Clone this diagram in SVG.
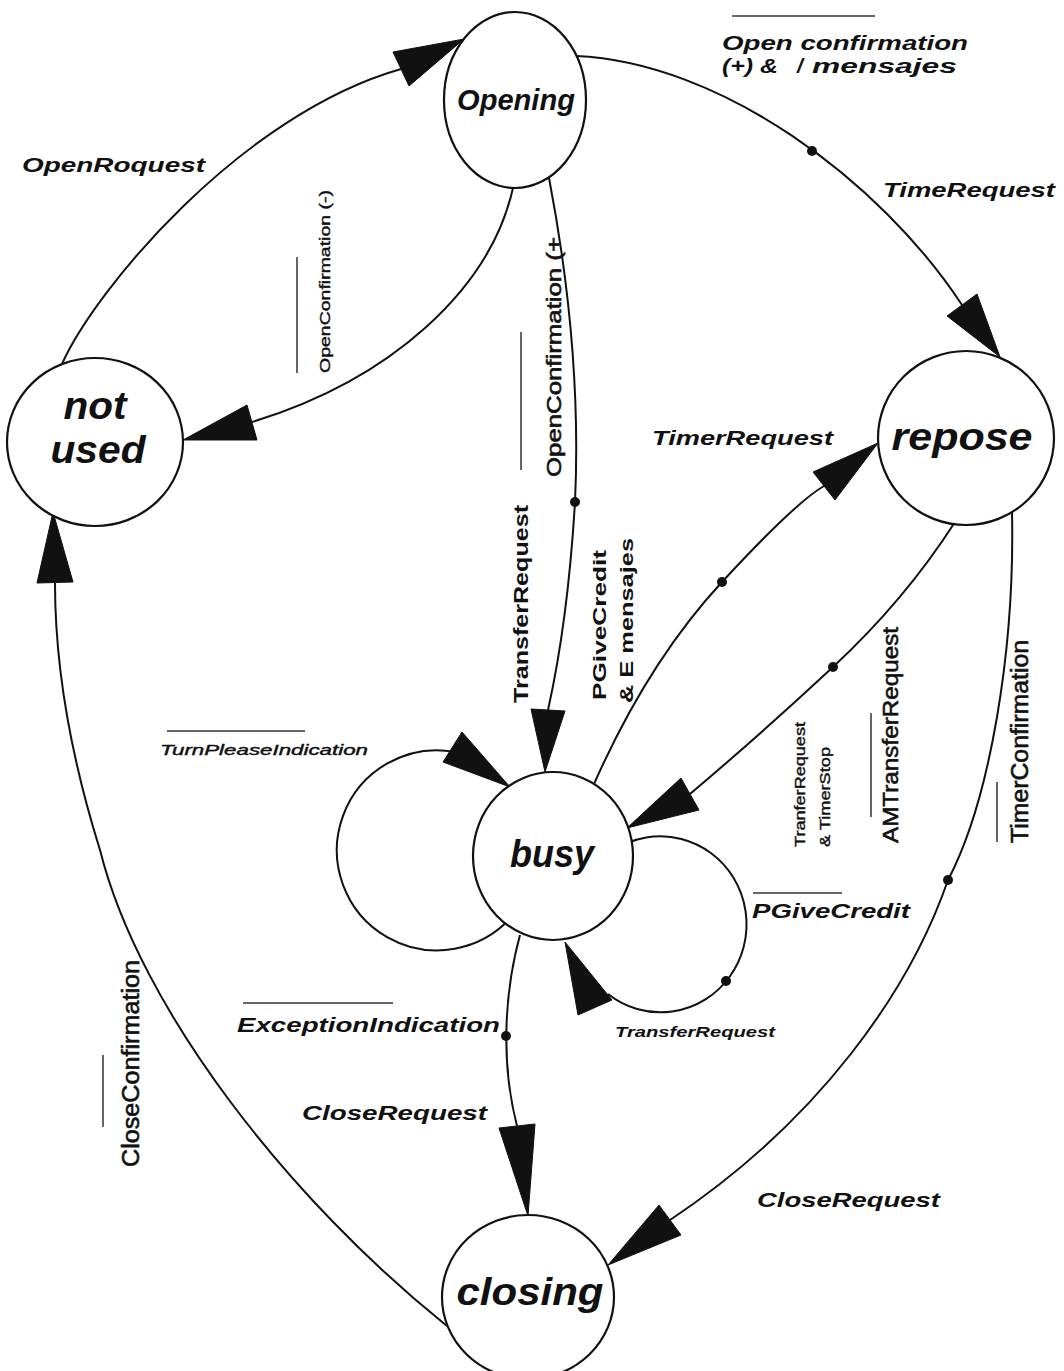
<svg xmlns="http://www.w3.org/2000/svg" width="1064" height="1371" viewBox="0 0 1064 1371">
<defs>
<style>
.node{fill:#fff;stroke:#111;stroke-width:2.2}
.nl{font-family:"Liberation Sans",Arial,sans-serif;font-style:italic;font-weight:bold;font-size:38px;fill:#111;text-anchor:middle}
.edge{fill:none;stroke:#111;stroke-width:2}
.ah{fill:#111;stroke:#111;stroke-width:1;stroke-linejoin:round}
.dot{fill:#111}
.lb{font-family:"Liberation Sans",Arial,sans-serif;font-style:italic;font-weight:bold;font-size:21px;fill:#111}
.vt{font-family:"Liberation Sans",Arial,sans-serif;font-style:normal;font-weight:normal;font-size:21px;fill:#111;stroke:#111;stroke-width:0.6}
.vb{font-family:"Liberation Sans",Arial,sans-serif;font-style:normal;font-weight:bold;font-size:21px;fill:#111}
.sm{font-family:"Liberation Sans",Arial,sans-serif;font-style:italic;font-weight:normal;font-size:14px;fill:#111;stroke:#111;stroke-width:0.4}
.ov{stroke:#333;stroke-width:1.5}
</style>
</defs>
<rect width="1064" height="1371" fill="#fff"/>
<g id="connectors">
  <g id="e-openrequest">
    <path class="edge" d="M62,364 C95,290 240,115 401,69"/>
    <polygon class="ah" points="464,39 393,52 409,86"/>
    <text class="lb" x="22" y="172" style="font-size:20px" textLength="183" lengthAdjust="spacingAndGlyphs">OpenRoquest</text>
  </g>
  <g id="e-openconf-neg">
    <path class="edge" d="M513,188 C490,290 390,380 252,422"/>
    <polygon class="ah" points="183,440 247,405 257,440"/>
    <line class="ov" x1="297" y1="257" x2="297" y2="373"/>
    <text class="vt" transform="translate(330,373) rotate(-90)" style="font-size:14px;stroke-width:0.4" textLength="183" lengthAdjust="spacingAndGlyphs">OpenConfirmation (-)</text>
  </g>
  <g id="e-opening-busy">
    <path class="edge" d="M549,178 Q582,350 575,502 Q568,620 548,710"/>
    <polygon class="ah" points="545,772 531,709 565,711"/>
    <circle class="dot" cx="575" cy="502" r="5"/>
    <line class="ov" x1="521" y1="332" x2="521" y2="470"/>
    <text class="vt" transform="translate(561,477) rotate(-90)" style="font-size:20px" textLength="240" lengthAdjust="spacingAndGlyphs">OpenConfirmation (+</text>
    <text class="vb" transform="translate(528,703) rotate(-90)" style="font-size:20px" textLength="198" lengthAdjust="spacingAndGlyphs">TransferRequest</text>
  </g>
  <g id="e-opening-repose">
    <path class="edge" d="M576,56 C720,62 880,180 962,305"/>
    <polygon class="ah" points="1000,357 977,294 947,316"/>
    <circle class="dot" cx="812" cy="151" r="5"/>
    <line class="ov" x1="732" y1="16" x2="875" y2="16"/>
    <text class="lb" x="722" y="50" textLength="246" lengthAdjust="spacingAndGlyphs">Open confirmation</text>
    <text class="lb" x="722" y="73" textLength="56" lengthAdjust="spacingAndGlyphs">(+) &amp;</text>
    <text class="lb" x="797" y="73">/</text>
    <text class="lb" x="812" y="73" textLength="145" lengthAdjust="spacingAndGlyphs">mensajes</text>
    <text class="lb" x="883" y="197" textLength="172" lengthAdjust="spacingAndGlyphs">TimeRequest</text>
  </g>
  <g id="e-busy-repose">
    <path class="edge" d="M594,784 Q648,662 722,582 T824,486"/>
    <polygon class="ah" points="878,443 813,472 835,500"/>
    <circle class="dot" cx="722" cy="582" r="5"/>
    <text class="lb" x="652" y="445" textLength="181" lengthAdjust="spacingAndGlyphs">TimerRequest</text>
    <text class="vb" transform="translate(606,700) rotate(-90)" style="font-size:18px" textLength="150" lengthAdjust="spacingAndGlyphs">PGiveCredit</text>
    <text class="vb" transform="translate(633,703) rotate(-90)" style="font-size:18px" textLength="165" lengthAdjust="spacingAndGlyphs">&amp; E mensajes</text>
  </g>
  <g id="e-repose-busy">
    <path class="edge" d="M955,522 Q905,600 833,667 T690,794"/>
    <polygon class="ah" points="627,828 699,810 681,778"/>
    <circle class="dot" cx="833" cy="667" r="5"/>
    <text class="vt" transform="translate(805,847) rotate(-90)" style="font-size:14px;stroke-width:0.4" textLength="125" lengthAdjust="spacingAndGlyphs">TranferRequest</text>
    <text class="vt" transform="translate(830,847) rotate(-90)" style="font-size:14px;stroke-width:0.4" textLength="100" lengthAdjust="spacingAndGlyphs">&amp; TimerStop</text>
    <line class="ov" x1="871" y1="713" x2="871" y2="817"/>
    <text class="vt" transform="translate(898,843) rotate(-90)" style="font-size:22px" textLength="216" lengthAdjust="spacingAndGlyphs">AMTransferRequest</text>
  </g>
  <g id="e-repose-closing">
    <path class="edge" d="M1012,512 C1015,650 990,800 948,880 C910,990 820,1120 670,1220"/>
    <polygon class="ah" points="608,1265 681,1235 659,1205"/>
    <circle class="dot" cx="948" cy="880" r="5"/>
    <line class="ov" x1="997" y1="782" x2="997" y2="842"/>
    <text class="vt" transform="translate(1028,843) rotate(-90)" style="font-size:23px" textLength="203" lengthAdjust="spacingAndGlyphs">TimerConfirmation</text>
    <text class="lb" x="757" y="1207" textLength="183" lengthAdjust="spacingAndGlyphs">CloseRequest</text>
  </g>
  <g id="e-busy-closing">
    <path class="edge" d="M520,935 C505,990 500,1060 517,1126"/>
    <polygon class="ah" points="528,1216 499,1128 535,1124"/>
    <circle class="dot" cx="506" cy="1036" r="5"/>
    <line class="ov" x1="243" y1="1003" x2="393" y2="1003"/>
    <text class="lb" x="237" y="1032" textLength="263" lengthAdjust="spacingAndGlyphs">ExceptionIndication</text>
    <text class="lb" x="302" y="1120" textLength="185" lengthAdjust="spacingAndGlyphs">CloseRequest</text>
  </g>
  <g id="e-closing-notused">
    <path class="edge" d="M447,1326 C290,1200 140,1010 100,850 C75,770 55,680 55,583"/>
    <polygon class="ah" points="53,512 37,583 73,582"/>
    <line class="ov" x1="103" y1="1055" x2="103" y2="1127"/>
    <text class="vt" transform="translate(139,1167) rotate(-90)" style="font-size:23px" textLength="207" lengthAdjust="spacingAndGlyphs">CloseConfirmation</text>
  </g>
  <g id="e-busy-loop-left">
    <path class="edge" d="M514,914 A100 100 0 1 1 455,752"/>
    <polygon class="ah" points="510,787 443,762 462,732"/>
    <line class="ov" x1="167" y1="731" x2="305" y2="731"/>
    <text class="sm" x="160" y="755" textLength="208" lengthAdjust="spacingAndGlyphs">TurnPleaseIndication</text>
  </g>
  <g id="e-busy-loop-right">
    <path class="edge" d="M590,874 A86 88 0 1 1 608,994"/>
    <polygon class="ah" points="565,942 578,1015 612,1000"/>
    <circle class="dot" cx="726" cy="981" r="5"/>
    <line class="ov" x1="753" y1="893" x2="842" y2="893"/>
    <text class="lb" x="752" y="918" textLength="158" lengthAdjust="spacingAndGlyphs">PGiveCredit</text>
    <text class="lb" x="615" y="1037" style="font-size:14px" textLength="160" lengthAdjust="spacingAndGlyphs">TransferRequest</text>
  </g>
</g>
<g id="node-opening">
  <ellipse class="node" cx="515" cy="100" rx="71" ry="88"/>
  <text class="nl" x="516" y="110" style="font-size:29px" textLength="118" lengthAdjust="spacingAndGlyphs">Opening</text>
</g>
<g id="node-notused">
  <ellipse class="node" cx="95" cy="442" rx="88" ry="84"/>
  <text class="nl" x="95" y="419" textLength="63" lengthAdjust="spacingAndGlyphs">not</text>
  <text class="nl" x="98" y="463" textLength="95" lengthAdjust="spacingAndGlyphs">used</text>
</g>
<g id="node-repose">
  <ellipse class="node" cx="966" cy="438" rx="88" ry="87"/>
  <text class="nl" x="962" y="450" textLength="141" lengthAdjust="spacingAndGlyphs">repose</text>
</g>
<g id="node-busy">
  <ellipse class="node" cx="553" cy="856" rx="80" ry="84"/>
  <text class="nl" x="552" y="867" textLength="84" lengthAdjust="spacingAndGlyphs">busy</text>
</g>
<g id="node-closing">
  <ellipse class="node" cx="528" cy="1297" rx="86" ry="82"/>
  <text class="nl" x="530" y="1305" textLength="147" lengthAdjust="spacingAndGlyphs">closing</text>
</g>
</svg>
